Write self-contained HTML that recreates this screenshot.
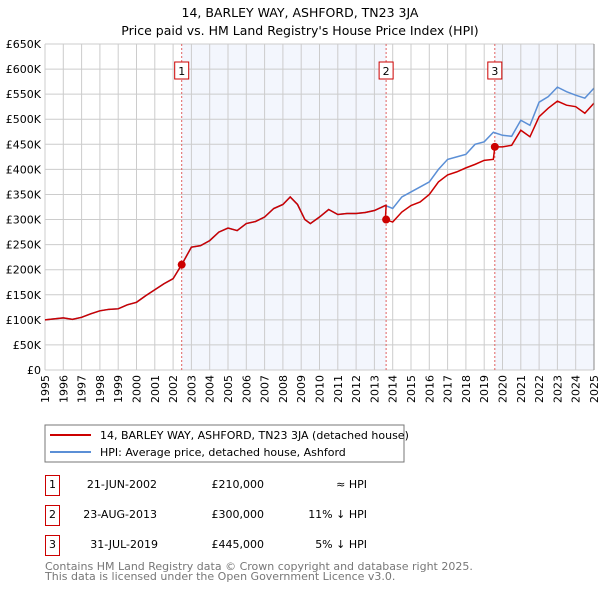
<!DOCTYPE html>
<html><head><meta charset="utf-8"><style>
body{margin:0;background:#fff;font-family:"DejaVu Sans","Liberation Sans",sans-serif;}
svg text{font-family:"DejaVu Sans","Liberation Sans",sans-serif;}
</style></head><body>
<svg id="c" width="600" height="590" xmlns="http://www.w3.org/2000/svg">
<text x="300" y="17" font-size="12.5" text-anchor="middle">14, BARLEY WAY, ASHFORD, TN23 3JA</text>
<text x="300" y="35" font-size="12.5" text-anchor="middle">Price paid vs. HM Land Registry's House Price Index (HPI)</text>
<g id="plot"></g>
<rect x="45" y="425" width="359" height="37" fill="#fff" stroke="#777"/>
<line x1="50" y1="435" x2="91" y2="435" stroke="#cc0000" stroke-width="2"/>
<text x="100" y="439" font-size="11">14, BARLEY WAY, ASHFORD, TN23 3JA (detached house)</text>
<line x1="50" y1="452" x2="91" y2="452" stroke="#5b8fd6" stroke-width="2"/>
<text x="100" y="456" font-size="11">HPI: Average price, detached house, Ashford</text>
<g font-size="11">
<rect x="45.5" y="475.5" width="14" height="20" fill="none" stroke="#cc0000"/>
<text x="52.5" y="488" text-anchor="middle">1</text>
<text x="157" y="488" text-anchor="end">21-JUN-2002</text>
<text x="264" y="488" text-anchor="end">£210,000</text>
<text x="367" y="488" text-anchor="end">≈ HPI</text>
<rect x="45.5" y="505.5" width="14" height="20" fill="none" stroke="#cc0000"/>
<text x="52.5" y="518" text-anchor="middle">2</text>
<text x="157" y="518" text-anchor="end">23-AUG-2013</text>
<text x="264" y="518" text-anchor="end">£300,000</text>
<text x="367" y="518" text-anchor="end">11% ↓ HPI</text>
<rect x="45.5" y="535.5" width="14" height="20" fill="none" stroke="#cc0000"/>
<text x="52.5" y="548" text-anchor="middle">3</text>
<text x="158" y="548" text-anchor="end">31-JUL-2019</text>
<text x="264" y="548" text-anchor="end">£445,000</text>
<text x="367" y="548" text-anchor="end">5% ↓ HPI</text>
</g>
<text x="45" y="570" font-size="11" fill="#777">Contains HM Land Registry data © Crown copyright and database right 2025.</text>
<text x="45" y="580" font-size="11" fill="#777">This data is licensed under the Open Government Licence v3.0.</text>
</svg>
<script>
const yTicks=[0,50,100,150,200,250,300,350,400,450,500,550,600,650];
const yTickLabels=["£0","£50K","£100K","£150K","£200K","£250K","£300K","£350K","£400K","£450K","£500K","£550K","£600K","£650K"];
const xYears=[1995,1996,1997,1998,1999,2000,2001,2002,2003,2004,2005,2006,2007,2008,2009,2010,2011,2012,2013,2014,2015,2016,2017,2018,2019,2020,2021,2022,2023,2024,2025];
const hpiT=[1995,1995.5,1996,1996.5,1997,1997.5,1998,1998.5,1999,1999.5,2000,2000.5,2001,2001.5,2002,2002.47,2003,2003.5,2004,2004.5,2005,2005.5,2006,2006.5,2007,2007.5,2008,2008.4,2008.8,2009.2,2009.5,2010,2010.5,2011,2011.5,2012,2012.5,2013,2013.6,2014,2014.5,2015,2015.5,2016,2016.5,2017,2017.5,2018,2018.5,2019,2019.5,2020,2020.5,2021,2021.5,2022,2022.5,2023,2023.5,2024,2024.5,2025];
const hpiV=[100,102,104,101,105,112,118,121,122,130,135,148,160,172,182,210,245,248,258,275,283,278,292,296,305,322,330,345,330,300,292,305,320,310,312,312,314,318,328,322,345,355,365,375,400,420,425,430,450,455,474,468,466,498,488,534,545,564,555,548,542,562];
const priceT=[2013.6,2014,2014.5,2015,2015.5,2016,2016.5,2017,2017.5,2018,2018.5,2019,2019.5,2019.58,2020,2020.5,2021,2021.5,2022,2022.5,2023,2023.5,2024,2024.5,2025];
const priceV=[300,295,315,328,335,350,375,389,395,403,410,418,420,445,445,448,478,465,505,522,536,528,525,512,532];
const saleT=[2002.47,2013.64,2019.58];
const saleV=[210,300,445];
const saleLabels=["1","2","3"];
const NS="http://www.w3.org/2000/svg";
const X0=45,X1=594,Y0=370,Y1=44;
const xs=t=>X0+(t-1995)/30*(X1-X0);
const ys=v=>Y0-v/650*(Y0-Y1);
const g=document.getElementById('plot');
function mk(tag,attrs){const e=document.createElementNS(NS,tag);for(const k in attrs)e.setAttribute(k,attrs[k]);g.appendChild(e);return e;}
let s1=mk('rect',{x:xs(saleT[0]),y:Y1,width:xs(saleT[1])-xs(saleT[0]),height:Y0-Y1,fill:'#f3f6fd'});


let s2=mk('rect',{x:xs(saleT[2]),y:Y1,width:X1-xs(saleT[2]),height:Y0-Y1,fill:'#f3f6fd'});


yTicks.forEach((v,i)=>{
 let l=mk('line',{x1:X0,x2:X1,y1:ys(v),y2:ys(v),stroke:'#ccc'});
 
 
 let t=mk('text',{x:41,y:ys(v)+4,'font-size':11,'text-anchor':'end'});
 t.textContent=yTickLabels[i];
 
 
});
xYears.forEach(yr=>{
 let l=mk('line',{x1:xs(yr),x2:xs(yr),y1:Y1,y2:Y0,stroke:'#ccc'});
 
 
 let t=mk('text',{x:0,y:0,'font-size':11,'text-anchor':'end',transform:`translate(${xs(yr)+4},375) rotate(-90)`});
 t.textContent=yr;
 
 
});
saleT.forEach((t,i)=>{
 let l=mk('line',{x1:xs(t),x2:xs(t),y1:Y1,y2:Y0,stroke:'#e06060','stroke-dasharray':'2,2'});
 
 
 let r=mk('rect',{x:xs(t)-7,y:62,width:14,height:17,fill:'#fff',stroke:'#cc0000'});
 
 
 let tx=mk('text',{x:xs(t),y:75,'font-size':11,'text-anchor':'middle'});
 tx.textContent=saleLabels[i];
 
 
});
const hp=mk('polyline',{points:hpiT.map((t,i)=>xs(t)+','+ys(hpiV[i])).join(' '),fill:'none',stroke:'#5b8fd6','stroke-width':1.5});


const pts=[];
hpiT.forEach((t,i)=>{if(t<saleT[1])pts.push([t,hpiV[i]]);});
pts.push([saleT[1],hpiV[hpiT.indexOf(2013.6)]]);
priceT.forEach((t,i)=>pts.push([t,priceV[i]]));
const pl=mk('polyline',{points:pts.map(p=>xs(p[0])+','+ys(p[1])).join(' '),fill:'none',stroke:'#cc0000','stroke-width':1.5});


saleT.forEach((t,i)=>{
 let c=mk('circle',{cx:xs(t),cy:ys(saleV[i]),r:4,fill:'#cc0000'});
 
 
});
let ax=mk('line',{x1:X1,x2:X1,y1:Y1,y2:Y0,stroke:'#888'});


</script>
</body></html>
